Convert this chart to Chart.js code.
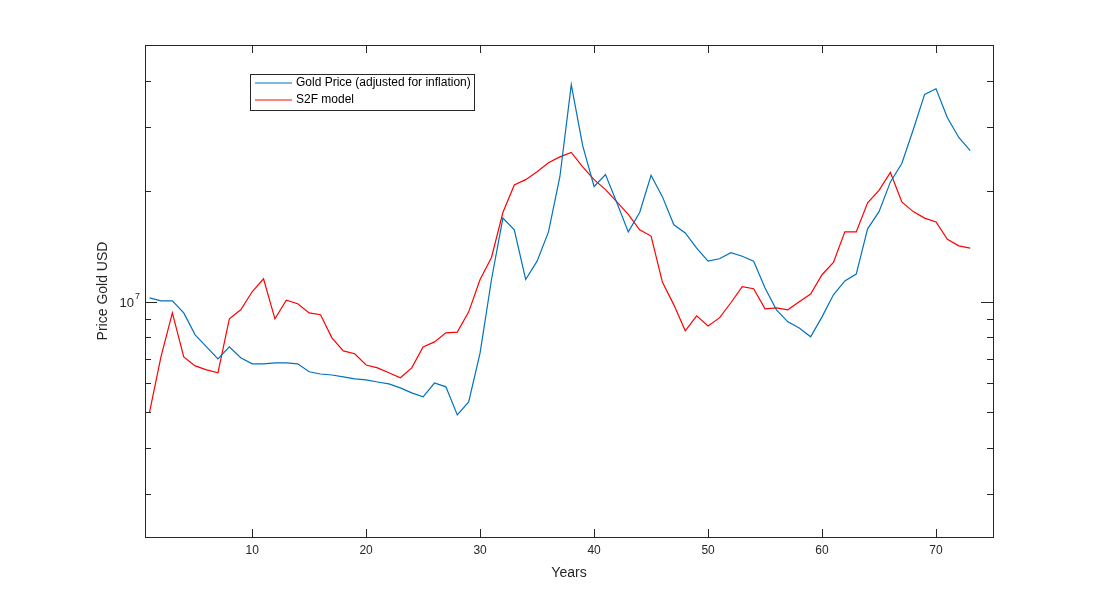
<!DOCTYPE html>
<html>
<head>
<meta charset="utf-8">
<script src="https://cdn.jsdelivr.net/npm/chart.js@4"></script>
<style>
  body { margin: 0; background: #fff; }
  #wrap { width: 1099px; height: 604px; }
</style>
</head>
<body>
<div id="wrap"><canvas id="chart"></canvas></div>
<script>
const years = Array.from({ length: 73 }, (_, i) => i + 1);

// values in millions of USD
const goldPrice = [10.25, 10.06, 10.06, 9.33, 8.13, 7.54, 6.99, 7.54, 7.04, 6.78,
  6.78, 6.82, 6.82, 6.78, 6.45, 6.36, 6.32, 6.25, 6.17, 6.13,
  6.05, 5.98, 5.83, 5.65, 5.51, 6.01, 5.87, 4.92, 5.34, 7.26,
  11.5, 16.9, 15.7, 11.5, 12.9, 15.5, 21.9, 39.0, 26.6, 20.6,
  22.2, 18.6, 15.5, 17.5, 22.1, 19.3, 16.2, 15.4, 14.0, 12.9,
  13.1, 13.6, 13.3, 12.9, 10.9, 9.51, 8.82, 8.49, 8.03, 9.10,
  10.45, 11.4, 11.9, 15.8, 17.6, 21.2, 23.8, 29.4, 36.7, 38.0,
  31.7, 28.0, 25.8];

const s2fModel = [5.01, 7.08, 9.33, 7.08, 6.69, 6.53, 6.41, 8.99, 9.51, 10.65,
  11.55, 8.99, 10.1, 9.88, 9.33, 9.22, 7.98, 7.35, 7.22, 6.73,
  6.61, 6.41, 6.21, 6.61, 7.54, 7.78, 8.23, 8.27, 9.39, 11.5,
  13.2, 17.5, 20.8, 21.5, 22.6, 23.9, 24.8, 25.5, 23.3, 21.5,
  20.2, 18.7, 17.3, 15.7, 15.1, 11.3, 9.81, 8.34, 9.16, 8.60,
  9.04, 9.94, 11.0, 10.85, 9.57, 9.63, 9.51, 10.0, 10.5, 11.85,
  12.8, 15.5, 15.5, 18.6, 20.1, 22.5, 18.7, 17.6, 16.9, 16.5,
  14.8, 14.2, 14.0];

const xTicks = [10, 20, 30, 40, 50, 60, 70];
const yTicks = [3e6, 4e6, 5e6, 6e6, 7e6, 8e6, 9e6, 1e7, 2e7, 3e7, 4e7];
const seriesNames = ['Gold Price (adjusted for inflation)', 'S2F model'];
const seriesColors = ['#0072BD', '#FF0000'];

const FONT = 'Liberation Sans, Arial, sans-serif';

function pts(arr) {
  return arr.map((v, i) => ({ x: years[i], y: v * 1e6 }));
}

// box, inward ticks, 10^7 label, axis titles and legend drawn the MATLAB way
const matlabAxes = {
  id: 'matlabAxes',
  afterDraw(chart) {
    const ctx = chart.ctx;
    const a = chart.chartArea;
    const xs = chart.scales.x, ys = chart.scales.y;
    ctx.save();
    ctx.strokeStyle = '#262626';
    ctx.lineWidth = 1;
    ctx.strokeRect(a.left + 0.5, a.top + 0.5, a.right - a.left, a.bottom - a.top);
    ctx.beginPath();
    xTicks.forEach(t => {
      const px = Math.round(xs.getPixelForValue(t)) + 0.5;
      ctx.moveTo(px, a.bottom); ctx.lineTo(px, a.bottom - 8);
      ctx.moveTo(px, a.top); ctx.lineTo(px, a.top + 8);
    });
    yTicks.forEach(t => {
      const py = Math.round(ys.getPixelForValue(t)) + 0.5;
      const len = t === 1e7 ? 12 : 6;
      ctx.moveTo(a.left, py); ctx.lineTo(a.left + len, py);
      ctx.moveTo(a.right, py); ctx.lineTo(a.right - len, py);
    });
    ctx.stroke();

    // 10^7 label
    const py7 = ys.getPixelForValue(1e7);
    ctx.fillStyle = '#262626';
    ctx.textBaseline = 'middle';
    ctx.textAlign = 'right';
    ctx.font = '9px ' + FONT;
    ctx.fillText('7', a.left - 5, py7 - 5);
    ctx.font = '13px ' + FONT;
    ctx.fillText('10', a.left - 11, py7 + 2);

    // axis titles
    ctx.font = '14px ' + FONT;
    ctx.textAlign = 'center';
    ctx.fillText('Years', (a.left + a.right) / 2, 573);
    ctx.save();
    ctx.translate(103, (a.top + a.bottom) / 2);
    ctx.rotate(-Math.PI / 2);
    ctx.fillText('Price Gold USD', 0, 0);
    ctx.restore();

    // legend
    const lx = 250, ly = 74, lw = 224, lh = 36;
    ctx.fillStyle = '#fff';
    ctx.fillRect(lx, ly, lw, lh);
    ctx.strokeStyle = '#262626';
    ctx.strokeRect(lx + 0.5, ly + 0.5, lw, lh);
    ctx.textAlign = 'left';
    ctx.font = '12px ' + FONT;
    seriesNames.forEach((name, i) => {
      const yy = ly + 9 + i * 17;
      ctx.strokeStyle = seriesColors[i];
      ctx.beginPath();
      ctx.moveTo(lx + 5, yy); ctx.lineTo(lx + 42, yy);
      ctx.stroke();
      ctx.fillStyle = '#000';
      ctx.fillText(name, lx + 46, yy);
    });
    ctx.restore();
  }
};

new Chart(document.getElementById('chart'), {
  type: 'line',
  data: {
    datasets: [
      { label: seriesNames[0], data: pts(goldPrice), borderColor: seriesColors[0] },
      { label: seriesNames[1], data: pts(s2fModel), borderColor: seriesColors[1] }
    ].map(d => Object.assign(d, { borderWidth: 1.2, pointRadius: 0, tension: 0, fill: false }))
  },
  options: {
    responsive: true,
    maintainAspectRatio: false,
    animation: false,
    layout: { padding: { left: 0, right: 106, top: 45, bottom: 0 } },
    plugins: { legend: { display: false }, tooltip: { enabled: false } },
    scales: {
      x: {
        type: 'linear', min: 0.6, max: 75,
        afterBuildTicks: s => { s.ticks = xTicks.map(v => ({ value: v })); },
        afterFit: s => { s.height = 67; },
        grid: { display: false, drawTicks: false },
        border: { display: false },
        ticks: { color: '#262626', font: { family: FONT, size: 12 }, padding: 6, maxRotation: 0 }
      },
      y: {
        type: 'logarithmic', min: 2.29e6, max: 5e7,
        afterBuildTicks: s => { s.ticks = yTicks.map(v => ({ value: v })); },
        afterFit: s => { s.width = 145; },
        grid: { display: false, drawTicks: false },
        border: { display: false },
        ticks: { callback: () => '' }
      }
    }
  },
  plugins: [matlabAxes]
});
</script>
</body>
</html>
